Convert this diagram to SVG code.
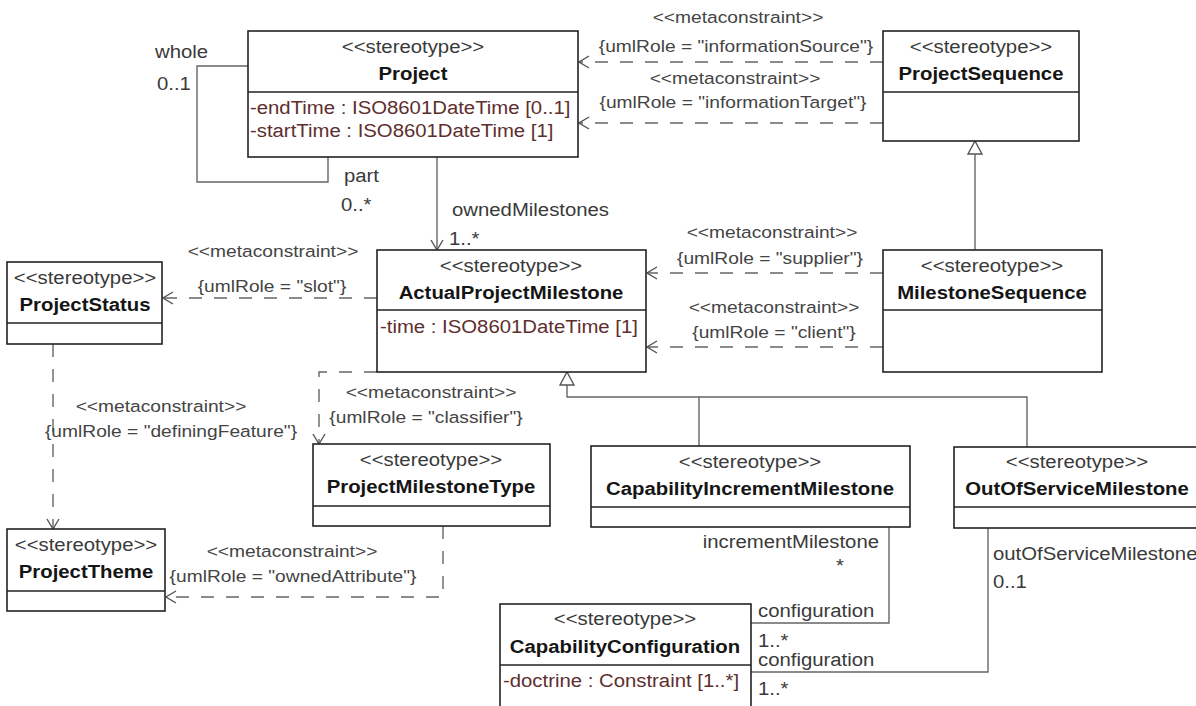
<svg xmlns="http://www.w3.org/2000/svg" width="1196" height="706" viewBox="0 0 1196 706">
<style>
text{font-family:"Liberation Sans",Arial,sans-serif;font-size:18px;fill:#333}
.st{text-anchor:middle;fill:#3a3a3a}
.nm{text-anchor:middle;font-weight:bold;fill:#151515}
.at{fill:#5e2e2e}
.mc{text-anchor:middle;font-size:17px;fill:#444}
.lb{fill:#3a3a3a}
.box{fill:#fff;stroke:#222;stroke-width:1.6}
.div{stroke:#222;stroke-width:1.6}
.ln{fill:none;stroke:#666;stroke-width:1.4}
.ds{fill:none;stroke:#666;stroke-width:1.4;stroke-dasharray:13 12}
</style>
<defs>
<marker id="open" viewBox="0 0 12 14" refX="11" refY="7" markerWidth="12" markerHeight="14" markerUnits="userSpaceOnUse" orient="auto">
<path d="M1,1 L11,7 L1,13" fill="none" stroke="#555" stroke-width="1.4" stroke-dasharray="none"/>
</marker>
<marker id="tri" viewBox="0 0 15 16" refX="14" refY="8" markerWidth="15" markerHeight="16" markerUnits="userSpaceOnUse" orient="auto">
<path d="M1,1 L14,8 L1,15 Z" fill="#fff" stroke="#555" stroke-width="1.4"/>
</marker>
</defs>
<rect width="1196" height="706" fill="#fff"/>

<g id="connectors">
<!-- Project self association -->
<path class="ln" d="M248 66 H197 V182 H328 V157"/>
<!-- ownedMilestones -->
<path class="ln" d="M437 157 V250" marker-end="url(#open)"/>
<!-- informationSource / Target -->
<path class="ds" d="M883 62 H579" marker-end="url(#open)"/>
<path class="ds" d="M883 123 H579" marker-end="url(#open)"/>
<!-- MilestoneSequence generalization -->
<path class="ln" d="M975 250 V141" marker-end="url(#tri)"/>
<!-- supplier / client -->
<path class="ds" d="M883 273 H647" marker-end="url(#open)"/>
<path class="ds" d="M883 347 H647" marker-end="url(#open)"/>
<!-- slot -->
<path class="ds" d="M377 298 H163" marker-end="url(#open)"/>
<!-- definingFeature -->
<path class="ds" d="M53 344 V529" marker-end="url(#open)"/>
<!-- classifier -->
<path class="ds" d="M377 372 H319 V444" marker-end="url(#open)"/>
<!-- ownedAttribute -->
<path class="ds" d="M443 526 V597 H166" marker-end="url(#open)"/>
<!-- generalization tree -->
<path class="ln" d="M1027 447 V397 H699"/>
<path class="ln" d="M699 446 V397 H567 V372" marker-end="url(#tri)"/>
<!-- configuration associations -->
<path class="ln" d="M889 527 V623 H751"/>
<path class="ln" d="M988 528 V672 H751"/>

<g id="connector-labels">
<text class="lb" transform="translate(155 58) scale(1.13 1)">whole</text>
<text class="lb" transform="translate(157 90) scale(1.13 1)">0..1</text>
<text class="lb" transform="translate(344 182) scale(1.13 1)">part</text>
<text class="lb" transform="translate(341 211) scale(1.13 1)">0..*</text>
<text class="lb" transform="translate(452 216) scale(1.13 1)">ownedMilestones</text>
<text class="lb" transform="translate(449 245) scale(1.13 1)">1..*</text>

<text class="mc" transform="translate(738 23) scale(1.13 1)">&lt;&lt;metaconstraint&gt;&gt;</text>
<text class="mc" transform="translate(736 52) scale(1.13 1)">{umlRole = "informationSource"}</text>
<text class="mc" transform="translate(735 84) scale(1.13 1)">&lt;&lt;metaconstraint&gt;&gt;</text>
<text class="mc" transform="translate(733 108) scale(1.13 1)">{umlRole = "informationTarget"}</text>

<text class="mc" transform="translate(772 238) scale(1.13 1)">&lt;&lt;metaconstraint&gt;&gt;</text>
<text class="mc" transform="translate(770 264) scale(1.13 1)">{umlRole = "supplier"}</text>
<text class="mc" transform="translate(774 313) scale(1.13 1)">&lt;&lt;metaconstraint&gt;&gt;</text>
<text class="mc" transform="translate(774 338) scale(1.13 1)">{umlRole = "client"}</text>

<text class="mc" transform="translate(273 257) scale(1.13 1)">&lt;&lt;metaconstraint&gt;&gt;</text>
<text class="mc" transform="translate(272 292) scale(1.13 1)">{umlRole = "slot"}</text>

<text class="mc" transform="translate(161 412) scale(1.13 1)">&lt;&lt;metaconstraint&gt;&gt;</text>
<text class="mc" transform="translate(171 437) scale(1.13 1)">{umlRole = "definingFeature"}</text>

<text class="mc" transform="translate(431 398) scale(1.13 1)">&lt;&lt;metaconstraint&gt;&gt;</text>
<text class="mc" transform="translate(426 423) scale(1.13 1)">{umlRole = "classifier"}</text>

<text class="mc" transform="translate(292 557) scale(1.13 1)">&lt;&lt;metaconstraint&gt;&gt;</text>
<text class="mc" transform="translate(293 582) scale(1.13 1)">{umlRole = "ownedAttribute"}</text>

<text class="lb" text-anchor="end" transform="translate(879 548) scale(1.13 1)">incrementMilestone</text>
<text class="lb" text-anchor="middle" transform="translate(840 572) scale(1.13 1)">*</text>
<text class="lb" transform="translate(758 617) scale(1.13 1)">configuration</text>
<text class="lb" transform="translate(758 647) scale(1.13 1)">1..*</text>
<text class="lb" transform="translate(993 560) scale(1.13 1)">outOfServiceMilestone</text>
<text class="lb" transform="translate(993 588) scale(1.13 1)">0..1</text>
<text class="lb" transform="translate(758 666) scale(1.13 1)">configuration</text>
<text class="lb" transform="translate(758 695) scale(1.13 1)">1..*</text>
</g>
</g>

<g id="Project">
<rect class="box" x="248" y="31" width="330" height="126"/>
<line class="div" x1="248" y1="92" x2="578" y2="92"/>
<text class="st" transform="translate(413 53) scale(1.13 1)">&lt;&lt;stereotype&gt;&gt;</text>
<text class="nm" transform="translate(413 80) scale(1.13 1)">Project</text>
<text class="at" transform="translate(250 114) scale(1.13 1)">-endTime : ISO8601DateTime [0..1]</text>
<text class="at" transform="translate(250 137) scale(1.13 1)">-startTime : ISO8601DateTime [1]</text>
</g>

<g id="ProjectSequence">
<rect class="box" x="883" y="31" width="196" height="110"/>
<line class="div" x1="883" y1="92" x2="1079" y2="92"/>
<text class="st" transform="translate(981 53) scale(1.13 1)">&lt;&lt;stereotype&gt;&gt;</text>
<text class="nm" transform="translate(981 80) scale(1.13 1)">ProjectSequence</text>
</g>

<g id="ActualProjectMilestone">
<rect class="box" x="377" y="250" width="269" height="122"/>
<line class="div" x1="377" y1="310" x2="646" y2="310"/>
<text class="st" transform="translate(511 272) scale(1.13 1)">&lt;&lt;stereotype&gt;&gt;</text>
<text class="nm" transform="translate(511 299) scale(1.13 1)">ActualProjectMilestone</text>
<text class="at" transform="translate(380 333) scale(1.13 1)">-time : ISO8601DateTime [1]</text>
</g>

<g id="MilestoneSequence">
<rect class="box" x="883" y="250" width="219" height="122"/>
<line class="div" x1="883" y1="310" x2="1102" y2="310"/>
<text class="st" transform="translate(992 272) scale(1.13 1)">&lt;&lt;stereotype&gt;&gt;</text>
<text class="nm" transform="translate(992 299) scale(1.13 1)">MilestoneSequence</text>
</g>

<g id="ProjectStatus">
<rect class="box" x="7" y="262" width="155" height="82"/>
<line class="div" x1="7" y1="323" x2="162" y2="323"/>
<text class="st" transform="translate(85 284) scale(1.13 1)">&lt;&lt;stereotype&gt;&gt;</text>
<text class="nm" transform="translate(85 311) scale(1.13 1)">ProjectStatus</text>
</g>

<g id="ProjectTheme">
<rect class="box" x="7" y="529" width="158" height="82"/>
<line class="div" x1="7" y1="591" x2="165" y2="591"/>
<text class="st" transform="translate(86 551) scale(1.13 1)">&lt;&lt;stereotype&gt;&gt;</text>
<text class="nm" transform="translate(86 578) scale(1.13 1)">ProjectTheme</text>
</g>

<g id="ProjectMilestoneType">
<rect class="box" x="313" y="444" width="237" height="82"/>
<line class="div" x1="313" y1="506" x2="550" y2="506"/>
<text class="st" transform="translate(431 466) scale(1.13 1)">&lt;&lt;stereotype&gt;&gt;</text>
<text class="nm" transform="translate(431 493) scale(1.13 1)">ProjectMilestoneType</text>
</g>

<g id="CapabilityIncrementMilestone">
<rect class="box" x="591" y="446" width="319" height="81"/>
<line class="div" x1="591" y1="507" x2="910" y2="507"/>
<text class="st" transform="translate(750 468) scale(1.13 1)">&lt;&lt;stereotype&gt;&gt;</text>
<text class="nm" transform="translate(750 495) scale(1.13 1)">CapabilityIncrementMilestone</text>
</g>

<g id="OutOfServiceMilestone">
<rect class="box" x="954" y="447" width="246" height="81"/>
<line class="div" x1="954" y1="507" x2="1200" y2="507"/>
<text class="st" transform="translate(1077 468) scale(1.13 1)">&lt;&lt;stereotype&gt;&gt;</text>
<text class="nm" transform="translate(1077 495) scale(1.13 1)">OutOfServiceMilestone</text>
</g>

<g id="CapabilityConfiguration">
<rect class="box" x="500" y="604" width="251" height="120"/>
<line class="div" x1="500" y1="665" x2="751" y2="665"/>
<text class="st" transform="translate(625 625) scale(1.13 1)">&lt;&lt;stereotype&gt;&gt;</text>
<text class="nm" transform="translate(625 653) scale(1.13 1)">CapabilityConfiguration</text>
<text class="at" transform="translate(503 687) scale(1.13 1)">-doctrine : Constraint [1..*]</text>
</g>
</svg>
